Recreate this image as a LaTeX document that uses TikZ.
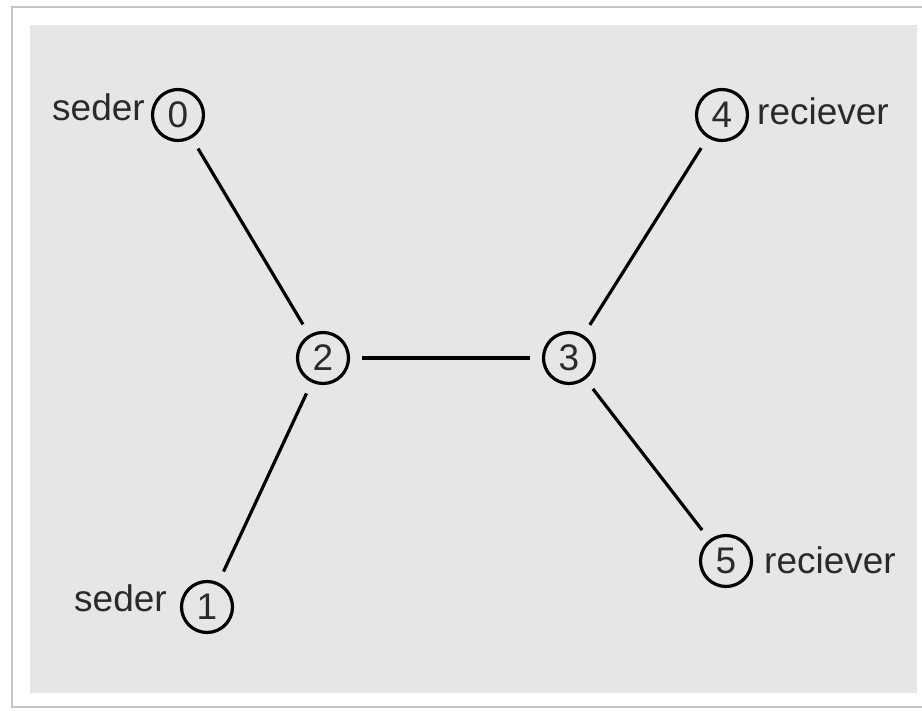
\documentclass[tikz,border=0pt]{standalone}
\usepackage{fontspec}
\setmainfont{Liberation Sans}
\definecolor{bggray}{HTML}{E6E6E6}
\definecolor{framegray}{HTML}{C4C4C4}
\definecolor{txt}{HTML}{2A2A2A}
\begin{document}
\begin{tikzpicture}[x=1pt,y=-1pt,
  vtx/.style={circle,draw=black,line width=3.2pt,minimum size=51pt,inner sep=0pt,
    font=\fontsize{37}{42}\selectfont,text=txt},
  lbl/.style={font=\fontsize{37}{42}\selectfont,text=txt,inner sep=0pt},
  link/.style={line width=3.2pt,shorten >=12pt,shorten <=12pt}]
\useasboundingbox (0,0) rectangle (922,711);
\fill[white] (0,0) rectangle (922,711);
\draw[framegray,line width=1.5pt] (922,7) -- (12,7) -- (12,707) -- (922,707);
\fill[bggray] (30,25) rectangle (917,693);
\node[vtx] (n0) at (178,115) {0};
\node[vtx] (n1) at (207,607) {1};
\node[vtx] (n2) at (323,358) {2};
\node[vtx] (n3) at (569,358) {3};
\node[vtx] (n4) at (722,115) {4};
\node[vtx] (n5) at (726,561) {5};
\node[lbl,anchor=base east] (l0) at (145,121) {seder};
\node[lbl,anchor=base east] (l1) at (167,611) {seder};
\node[lbl,anchor=base west] (l4) at (757,125) {reciever};
\node[lbl,anchor=base west] (l5) at (764,573) {reciever};
\draw[link] (n0) -- (n2);
\draw[link] (n2) -- (n1);
\draw[link] (n2) -- (n3);
\draw[link] (n3) -- (n4);
\draw[link] (n3) -- (n5);
\end{tikzpicture}
\end{document}
